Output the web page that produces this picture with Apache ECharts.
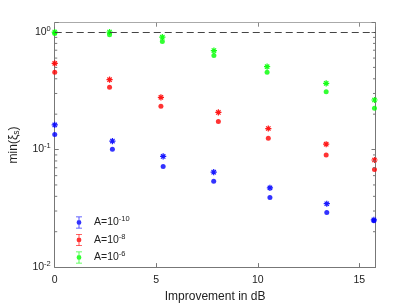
<!DOCTYPE html>
<html><head><meta charset="utf-8">
<script src="https://cdn.jsdelivr.net/npm/echarts@6/dist/echarts.min.js"></script>
<style>html,body{margin:0;padding:0;background:#fff}#c{width:415px;height:308px}</style>
</head><body><div id="c"></div>
<script>
const groupNames = ['A=10^-10', 'A=10^-8', 'A=10^-6'];
const groupSup = ['-10', '-8', '-6'];
const colors = ['#0000ff', '#ff0000', '#00ff00'];
const blueX = [0, 2.84, 5.34, 7.83, 10.6, 13.4, 15.72];
const blueStar = [0.162, 0.118, 0.0874, 0.0642, 0.0472, 0.0346, 0.0252];
const blueDot = [0.134, 0.1006, 0.0716, 0.0538, 0.0391, 0.0292, 0.0248];
const redX = [0, 2.7, 5.23, 8.06, 10.52, 13.37, 15.75];
const redStar = [0.541, 0.393, 0.278, 0.207, 0.151, 0.111, 0.0815];
const redDot = [0.455, 0.339, 0.233, 0.173, 0.125, 0.090, 0.0677];
const greenX = [0, 2.7, 5.3, 7.84, 10.46, 13.37, 15.75];
const greenStar = [1.0, 1.0, 0.904, 0.695, 0.507, 0.366, 0.264];
const greenDot = [0.97, 0.95, 0.83, 0.631, 0.455, 0.31, 0.225];
const xTicks = [0, 5, 10, 15];
const yDecades = [-2, -1, 0];
const refLineY = 1;

const xMin = 0, xMax = 15.8, yMin = 0.01, yMax = 1.2;

const starPath = 'path://M-1,-0.2L1,-0.2L1,0.2L-1,0.2Z M-0.2,-1L0.2,-1L0.2,1L-0.2,1Z M-0.56,-0.84L0.84,0.56L0.56,0.84L-0.84,-0.56Z M0.56,-0.84L0.84,-0.56L-0.56,0.84L-0.84,0.56Z';
const errPath = 'path://M-0.5,-1L0.5,-1L0.5,-0.86L-0.5,-0.86Z M-0.07,-1L0.07,-1L0.07,1L-0.07,1Z M-0.5,0.86L0.5,0.86L0.5,1L-0.5,1Z M-0.4,0A0.4,0.4 0 1 1 0.4,0A0.4,0.4 0 1 1 -0.4,0Z';

const groups = [
  {x: blueX, star: blueStar, dot: blueDot},
  {x: redX, star: redStar, dot: redDot},
  {x: greenX, star: greenStar, dot: greenDot}
];

// minor tick positions on log axis (2..9 per decade)
const minorVals = [];
for (let e = -2; e <= 0; e++) for (let m = 2; m <= 9; m++) {
  const v = m * Math.pow(10, e);
  if (v <= yMax) minorVals.push(v);
}

const series = [];
groups.forEach((g, i) => {
  series.push({
    name: groupNames[i] + '_star', type: 'scatter', symbol: starPath, symbolSize: 6.2,
    itemStyle: {color: colors[i], opacity: 0.9}, z: 3,
    data: g.x.map((x, k) => [x, g.star[k]])
  });
  series.push({
    name: groupNames[i], type: 'scatter', symbol: 'circle', symbolSize: 5,
    itemStyle: {color: colors[i]}, z: 3,
    data: g.x.map((x, k) => [x, g.dot[k]])
  });
});
// reference dashed line
series.push({
  name: 'ref', type: 'line', data: [], silent: true,
  markLine: {
    silent: true, symbol: 'none', label: {show: false},
    lineStyle: {color: '#444', type: [7, 4], width: 1},
    data: [{yAxis: refLineY}]
  }
});
// minor ticks on both vertical sides
series.push({
  name: 'minor', type: 'custom', silent: true, z: 5,
  data: minorVals.map(v => [v]),
  renderItem: (params, api) => {
    const v = api.value(0);
    const pL = api.coord([xMin, v]);
    const pR = api.coord([xMax, v]);
    return {type: 'group', children: [
      {type: 'line', shape: {x1: pL[0], y1: pL[1], x2: pL[0] + 2.5, y2: pL[1]}, style: {stroke: '#777', lineWidth: 1}},
      {type: 'line', shape: {x1: pR[0], y1: pR[1], x2: pR[0] - 2.5, y2: pR[1]}, style: {stroke: '#777', lineWidth: 1}}
    ]};
  },
  encode: {y: 0}
});

function logLabel(value) {
  const e = Math.round(Math.log10(value));
  if (yDecades.indexOf(e) < 0 || Math.abs(value - Math.pow(10, e)) > 1e-9) return '';
  return '{b|10}{s|' + e + '}';
}

const font = '"Liberation Sans", Arial, Helvetica, sans-serif';
const chart = echarts.init(document.getElementById('c'), null, {renderer: 'canvas'});
chart.setOption({
  animation: false,
  backgroundColor: '#fff',
  textStyle: {fontFamily: font},
  grid: {left: 53, right: 39.5, top: 22.7, bottom: 35.5, containLabel: false},
  legend: {
    orient: 'vertical', left: 71, top: 210, itemGap: 4, itemWidth: 6, itemHeight: 14,
    selectedMode: false,
    data: groupNames.map((n, i) => ({name: n, icon: errPath, itemStyle: {color: colors[i]}})),
    formatter: name => '{a|A=10}{s|' + groupSup[groupNames.indexOf(name)] + '}',
    textStyle: {
      fontFamily: font, color: '#222', fontSize: 10.5,
      rich: {
        a: {fontFamily: font, fontSize: 10.5, color: '#222', padding: [0, 0, 0, 7]},
        s: {fontFamily: font, fontSize: 7.5, color: '#222', padding: [0, 0, 7, 0]}
      }
    }
  },
  xAxis: [{
    type: 'value', min: xMin, max: xMax, interval: 5, position: 'bottom',
    name: 'Improvement in dB', nameLocation: 'middle', nameGap: 22,
    nameTextStyle: {fontFamily: font, fontSize: 12, color: '#222'},
    axisLine: {show: true, onZero: false, lineStyle: {color: '#777', width: 1}},
    axisTick: {show: true, inside: true, length: 4, lineStyle: {color: '#777'}},
    axisLabel: {show: true, fontFamily: font, fontSize: 10.5, color: '#222', margin: 8,
      formatter: v => xTicks.indexOf(v) >= 0 ? String(v) : '', showMaxLabel: false},
    splitLine: {show: false}
  }, {
    type: 'value', min: xMin, max: xMax, interval: 5, position: 'top',
    axisLine: {show: true, onZero: false, lineStyle: {color: '#aaa', width: 1}},
    axisTick: {show: true, inside: true, length: 4, lineStyle: {color: '#888'}},
    axisLabel: {show: false}, splitLine: {show: false}
  }],
  yAxis: [{
    type: 'log', logBase: 10, min: yMin, max: yMax, interval: 1, position: 'left',
    name: 'min(ξ{sub|s})', nameLocation: 'middle', nameGap: 30, nameRotate: 90,
    nameTextStyle: {fontFamily: font, fontSize: 12, color: '#222',
      rich: {sub: {fontFamily: font, fontSize: 8.5, color: '#222', padding: [6, 0, 0, 0]}}},
    axisLine: {show: true, onZero: false, lineStyle: {color: '#777', width: 1}},
    axisTick: {show: true, inside: true, length: 4, lineStyle: {color: '#777'}},
    axisLabel: {show: true, fontFamily: font, fontSize: 10.5, color: '#222', margin: 4,
      formatter: logLabel,
      rich: {
        b: {fontFamily: font, fontSize: 10.5, color: '#222'},
        s: {fontFamily: font, fontSize: 7.5, color: '#222', padding: [0, 0, 7, 0]}
      }},
    splitLine: {show: false}
  }, {
    type: 'log', logBase: 10, min: yMin, max: yMax, interval: 1, position: 'right',
    axisLine: {show: true, onZero: false, lineStyle: {color: '#777', width: 1}},
    axisTick: {show: true, inside: true, length: 4, lineStyle: {color: '#777'}},
    axisLabel: {show: false}, splitLine: {show: false}
  }],
  series: series
});
</script></body></html>
